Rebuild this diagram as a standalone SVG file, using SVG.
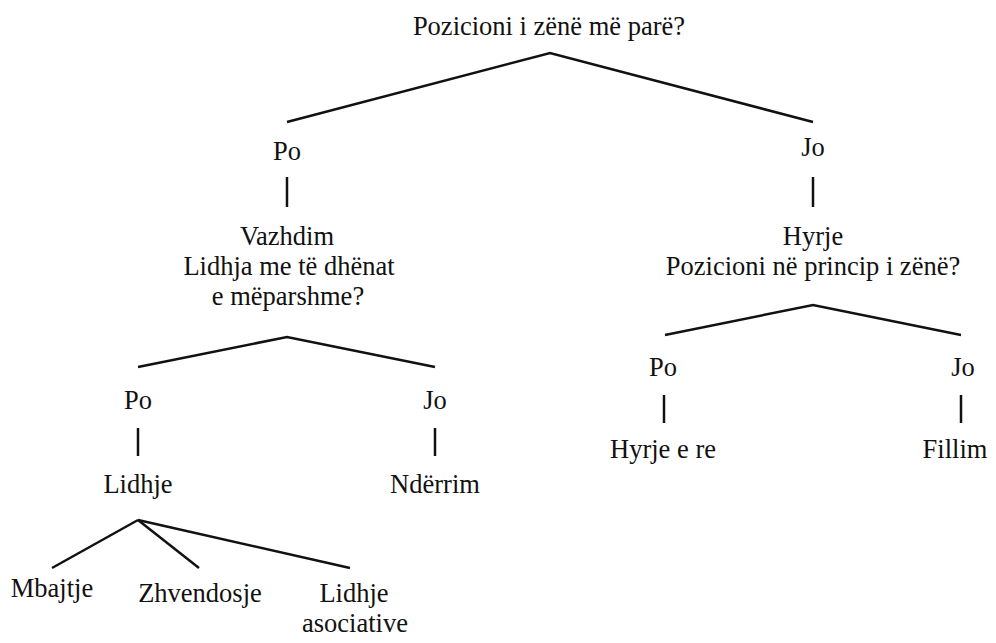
<svg xmlns="http://www.w3.org/2000/svg" width="996" height="643" viewBox="0 0 996 643">
<style>
text { font-family: 'Liberation Serif', 'DejaVu Serif', serif; font-size: 26.5px; fill: #111; text-anchor: middle; }
.e { stroke: #111; stroke-width: 2.5; fill: none; stroke-linecap: butt; }
</style>
<rect width="996" height="643" fill="#ffffff"/>
<g id="connectors">
<polyline class="e" points="287,122 550,53 813,122"/>
<line class="e" x1="287" y1="177" x2="287" y2="207"/>
<line class="e" x1="813" y1="177" x2="813" y2="207"/>
<polyline class="e" points="138,367 287,337 435,367"/>
<line class="e" x1="138" y1="428" x2="138" y2="456"/>
<line class="e" x1="435" y1="428" x2="435" y2="456"/>
<polyline class="e" points="665,335 813,305 961,335"/>
<line class="e" x1="664" y1="395" x2="664" y2="423"/>
<line class="e" x1="961" y1="395" x2="961" y2="423"/>
<line class="e" x1="138" y1="520" x2="52" y2="568"/>
<line class="e" x1="138" y1="520" x2="199" y2="568"/>
<line class="e" x1="138" y1="520" x2="350" y2="568"/>
</g>
<g id="root"><text x="549" y="35">Pozicioni i zënë më parë?</text></g>
<g id="po1"><text x="287" y="160">Po</text></g>
<g id="jo1"><text x="813" y="156">Jo</text></g>
<g id="vazhdim"><text x="287" y="245">Vazhdim</text><text x="289" y="275">Lidhja me të dhënat</text><text x="288" y="305">e mëparshme?</text></g>
<g id="hyrje"><text x="813" y="245">Hyrje</text><text x="813" y="275">Pozicioni në princip i zënë?</text></g>
<g id="po2"><text x="138" y="409">Po</text></g>
<g id="jo2"><text x="435" y="409">Jo</text></g>
<g id="lidhje"><text x="138" y="493">Lidhje</text></g>
<g id="nderrim"><text x="435" y="493">Ndërrim</text></g>
<g id="po3"><text x="663" y="376">Po</text></g>
<g id="jo3"><text x="963" y="376">Jo</text></g>
<g id="hyrjeere"><text x="663" y="458">Hyrje e re</text></g>
<g id="fillim"><text x="955" y="458">Fillim</text></g>
<g id="mbajtje"><text x="52" y="597">Mbajtje</text></g>
<g id="zhvendosje"><text x="200" y="602">Zhvendosje</text></g>
<g id="lidhjeasoc"><text x="354" y="602">Lidhje</text><text x="355" y="632">asociative</text></g>
</svg>
